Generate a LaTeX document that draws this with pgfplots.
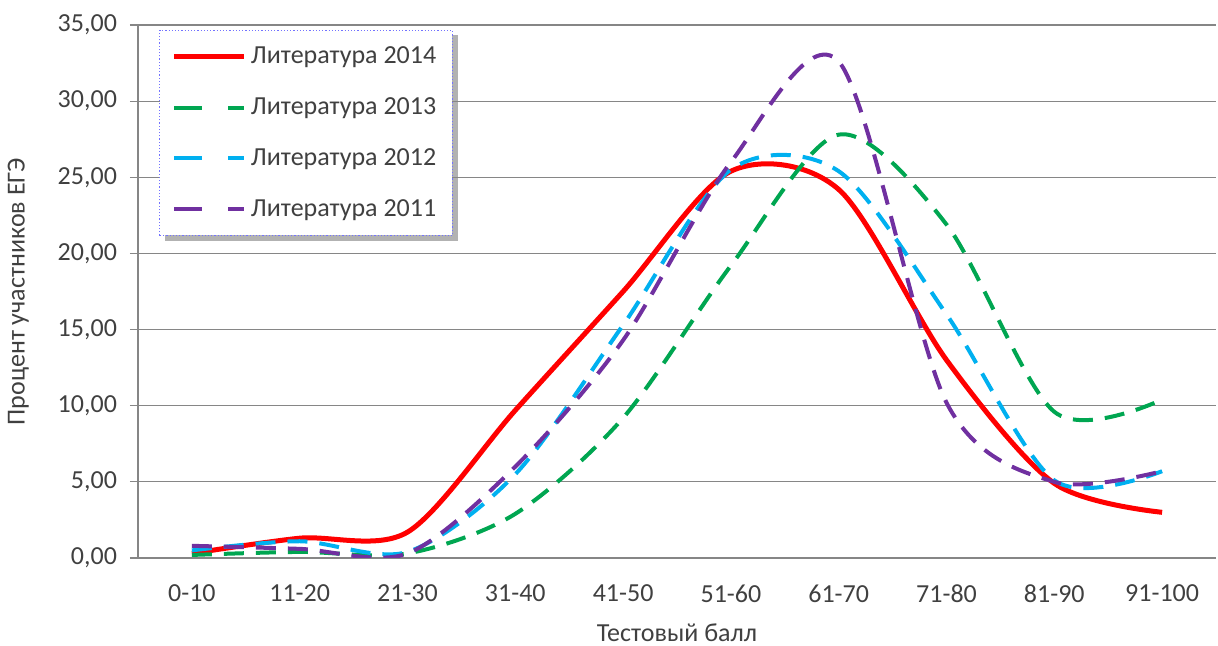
\documentclass[border=0pt]{standalone}
\usepackage{fontspec}
\setmainfont{Carlito}
\usepackage{pgfplots}
\usepackage{pgfplotstable}
\pgfplotsset{compat=1.18}
\usetikzlibrary{backgrounds}

\definecolor{c2014}{RGB}{255,0,0}
\definecolor{c2013}{RGB}{0,166,81}
\definecolor{c2012}{RGB}{0,176,240}
\definecolor{c2011}{RGB}{112,48,160}
\definecolor{txt}{RGB}{64,64,64}
\definecolor{gridc}{RGB}{134,134,134}

% percent of exam participants per score band
\pgfplotstableread{
x  y2014 y2013 y2012 y2011
0  0.3   0.2   0.5   0.8
1  1.3   0.4   1.1   0.6
2  1.7   0.3   0.4   0.3
3  9.7   2.9   5.5   6.0
4  17.5  9.2   15.3  14.3
5  25.4  19.2  25.5  26.0
6  24.2  27.8  25.4  32.6
7  13.0  21.9  16.0  10.2
8  4.9   9.6   5.1   5.0
9  3.0   10.4  5.7   5.7
}\egetable

\pgfplotsset{
  dashleg/.style={legend image code/.code={%
    \draw[#1, line width=2pt, dash pattern=on 14pt off 13pt] (0pt,0pt) -- (35pt,0pt);}},
}

\begin{document}
\begin{tikzpicture}
\begin{axis}[
  name=ax, at={(0,0)}, anchor=south west,
  scale only axis, width=539pt, height=266.5pt,
  xmin=-0.5, xmax=9.5, ymin=0, ymax=35,
  xtick={0,...,9},
  xticklabels={0-10,11-20,21-30,31-40,41-50,51-60,61-70,71-80,81-90,91-100},
  ytick={0,5,...,35},
  /pgf/number format/fixed,
  /pgf/number format/fixed zerofill,
  /pgf/number format/precision=2,
  /pgf/number format/use comma,
  /pgf/number format/assume math mode=true,
  tick label style={font=\fontsize{13}{15}\selectfont, text=txt},
  xticklabel style={yshift=-6pt},
  yticklabel style={xshift=-3pt},
  xtick style={draw=none},
  ytick style={draw=gridc, line width=0.6pt},
  tick align=outside, major tick length=4pt,
  ymajorgrids, grid style={gridc, line width=0.6pt},
  axis x line*=bottom, axis y line*=left,
  axis line style={gridc, line width=0.6pt, -},
  xlabel={Тестовый балл},
  ylabel={Процент участников ЕГЭ},
  label style={font=\fontsize{13}{15}\selectfont, text=txt},
  xlabel style={at={(axis description cs:0.5,-0.14)}, anchor=center},
  ylabel style={at={(axis description cs:-0.111,0.5)}, anchor=center, rotate=0},
  legend style={name=leg, at={(axis description cs:0.02,0.99)}, anchor=north west,
    fill=white, draw=none,
    font=\fontsize{13}{15}\selectfont, text=txt, row sep=11.5pt,
    inner xsep=6pt, inner ysep=6pt},
  legend cell align=left,
]
\addplot[c2014, line width=2.5pt, smooth,
  legend image code/.code={\draw[c2014, line width=2.5pt] (0pt,0pt) -- (35pt,0pt);}]
  table[x=x, y=y2014] {\egetable};
\addlegendentry{Литература 2014}
\addplot[c2013, line width=2pt, smooth, dash pattern=on 10pt off 6pt, dashleg=c2013]
  table[x=x, y=y2013] {\egetable};
\addlegendentry{Литература 2013}
\addplot[c2012, line width=2pt, smooth, dash pattern=on 10pt off 6pt, dashleg=c2012]
  table[x=x, y=y2012] {\egetable};
\addlegendentry{Литература 2012}
\addplot[c2011, line width=2pt, smooth, dash pattern=on 10pt off 6pt, dashleg=c2011]
  table[x=x, y=y2011] {\egetable};
\addlegendentry{Литература 2011}
\end{axis}
\draw[blue!55, densely dotted, line width=0.6pt] (leg.south west) rectangle (leg.north east);
\begin{scope}[on background layer]
  \fill[black!30] ([xshift=2.5pt,yshift=-2.5pt]leg.south west) rectangle ([xshift=2.5pt,yshift=-2.5pt]leg.north east);
\end{scope}
\pgfresetboundingbox
\useasboundingbox (-69pt,-44pt) rectangle (540pt,279pt);
\end{tikzpicture}
\end{document}
